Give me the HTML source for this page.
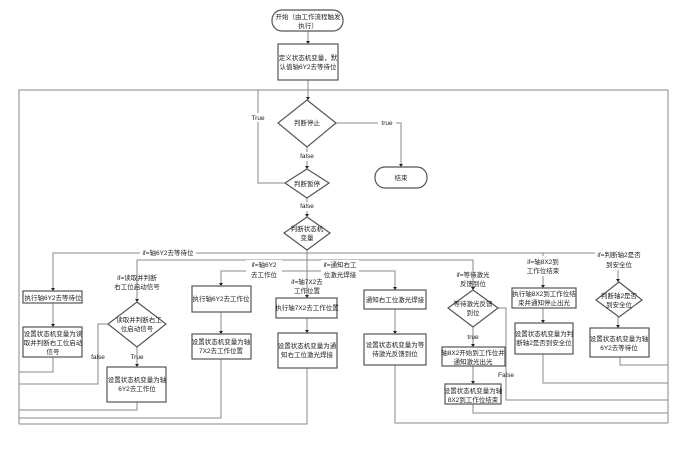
<!DOCTYPE html>
<html><head><meta charset="utf-8"><style>
html,body{margin:0;padding:0;background:#fff;}
svg{display:block;}
text{font-family:"Liberation Sans","Noto Sans CJK SC",sans-serif;font-size:6.5px;fill:#222;text-anchor:middle;}
.l{fill:none;stroke:#8a8a8a;stroke-width:1;}
.b{fill:#fff;stroke:#555;stroke-width:1.2;}
.a{fill:#222;}
</style></head><body>
<svg width="686" height="453" viewBox="0 0 686 453" xmlns="http://www.w3.org/2000/svg">
<g class="l">
<path d="M308 31V44M308 80V100"/>
<path d="M19 424V90H668V423"/>
<path d="M258 90V183H285"/>
<path d="M336 123H401V167"/>
<path d="M307 147V169M307 198V217M307 250V298"/>
<path d="M53 291V253H618V282"/>
<path d="M137 302V260H473V290"/>
<path d="M221 286V271H395V290"/>
<path d="M53 303V327M53 357V372H19"/>
<path d="M137 347V367M108 324H98V384H19M137 402V410H19"/>
<path d="M221 312V334M221 359V418H19"/>
<path d="M307 318V333M307 368V424H19"/>
<path d="M395 309V334M395 365V423H668"/>
<path d="M473 327V347M473 366V384M473 404V413H668M498 308H506V400H668"/>
<path d="M543 253V288M543 308V323M543 354V383H668"/>
<path d="M618 317V328M620 357V365H668"/>
</g>
<g class="a">
<path d="M306 41l2 3 2-3z"/><path d="M306 97l2 3 2-3z"/>
<path d="M399 164l2 3 2-3z"/><path d="M305 166l2 3 2-3z"/><path d="M305 214l2 3 2-3z"/>
<path d="M51 288l2 3 2-3z"/><path d="M51 324l2 3 2-3z"/>
<path d="M135 299l2 3 2-3z"/><path d="M135 364l2 3 2-3z"/>
<path d="M219 283l2 3 2-3z"/><path d="M219 331l2 3 2-3z"/>
<path d="M305 295l2 3 2-3z"/><path d="M305 330l2 3 2-3z"/>
<path d="M393 287l2 3 2-3z"/><path d="M393 331l2 3 2-3z"/>
<path d="M471 287l2 3 2-3z"/><path d="M471 344l2 3 2-3z"/><path d="M471 381l2 3 2-3z"/>
<path d="M541 285l2 3 2-3z"/><path d="M541 320l2 3 2-3z"/>
<path d="M616 279l2 3 2-3z"/><path d="M616 325l2 3 2-3z"/>
</g>
<rect class="b" x="272" y="10" width="71" height="21" rx="10"/>
<rect class="b" x="278" y="44" width="60" height="36"/>
<polygon class="b" points="307,100 336,123 307,147 278,123"/>
<rect class="b" x="375" y="167" width="52" height="21" rx="10"/>
<polygon class="b" points="307,169 329,183 307,198 285,183"/>
<polygon class="b" points="307,217 330,233 307,250 284,233"/>
<rect class="b" x="23" y="291" width="59" height="12"/>
<rect class="b" x="23" y="327" width="59" height="30"/>
<polygon class="b" points="137,302 166,324 137,347 108,324"/>
<rect class="b" x="107" y="367" width="59" height="35"/>
<rect class="b" x="192" y="286" width="59" height="26"/>
<rect class="b" x="192" y="334" width="59" height="25"/>
<rect class="b" x="276" y="298" width="61" height="20"/>
<rect class="b" x="278" y="333" width="59" height="35"/>
<rect class="b" x="364" y="290" width="62" height="19"/>
<rect class="b" x="364" y="334" width="62" height="31"/>
<polygon class="b" points="473,290 498,308 473,327 448,308"/>
<rect class="b" x="442" y="347" width="63" height="19"/>
<rect class="b" x="445" y="384" width="56" height="20"/>
<rect class="b" x="512" y="288" width="64" height="20"/>
<rect class="b" x="515" y="323" width="58" height="31"/>
<polygon class="b" points="619,282 642,300 619,317 596,300"/>
<rect class="b" x="590" y="328" width="59" height="29"/>
<g fill="#fff">
<rect x="250" y="113" width="16" height="9"/><rect x="378" y="118" width="18" height="9"/>
<rect x="296" y="152" width="22" height="9"/><rect x="296" y="202" width="22" height="9"/>
<rect x="140" y="248" width="56" height="9"/>
<rect x="246" y="260" width="36" height="20"/><rect x="321" y="260" width="38" height="20"/>
<rect x="523" y="256" width="42" height="20"/><rect x="595" y="250" width="48" height="20"/>
</g>
<text x="308" y="19">开始（由工作流程触发</text><text x="308" y="28">执行）</text>
<text x="308" y="60">定义状态机变量，默</text><text x="308" y="69">认值轴6Y2去等待位</text>
<text x="307" y="125">判断停止</text>
<text x="258" y="120">True</text><text x="387" y="125">true</text>
<text x="307" y="158">false</text><text x="307" y="208">false</text>
<text x="401" y="180">结束</text>
<text x="307" y="186">判断暂停</text>
<text x="307" y="231">判断状态机</text><text x="307" y="240">变量</text>
<text x="168" y="255">if=轴6Y2去等待位</text>
<text x="137" y="280">if=读取并判断</text><text x="137" y="289">右工位启动信号</text>
<text x="264" y="267">if=轴6Y2</text><text x="264" y="277">去工作位</text>
<text x="307" y="284">if=轴7X2去</text><text x="307" y="293">工作位置</text>
<text x="340" y="267">if=通知右工</text><text x="340" y="277">位激光焊接</text>
<text x="473" y="277">if=等待激光</text><text x="473" y="286">反馈到位</text>
<text x="543" y="264">if=轴8X2到</text><text x="543" y="273">工作位结束</text>
<text x="619" y="257">if=判断轴2是否</text><text x="619" y="267">到安全位</text>
<text x="53" y="300">执行轴6Y2去等待位</text>
<text x="53" y="336">设置状态机变量为读</text><text x="53" y="345">取并判断右工位启动</text><text x="53" y="354">信号</text>
<text x="139" y="322">读取并判断右工</text><text x="137" y="331">位启动信号</text>
<text x="98" y="359">false</text><text x="137" y="359">True</text>
<text x="137" y="382">设置状态机变量为轴</text><text x="137" y="391">6Y2去工作位</text>
<text x="221" y="301">执行轴6Y2去工作位</text>
<text x="221" y="344">设置状态机变量为轴</text><text x="221" y="353">7X2去工作位置</text>
<text x="307" y="310">执行轴7X2去工作位置</text>
<text x="307" y="348">设置状态机变量为通</text><text x="307" y="357">知右工位激光焊接</text>
<text x="395" y="302">通知右工位激光焊接</text>
<text x="395" y="347">设置状态机变量为等</text><text x="395" y="356">待激光反馈到位</text>
<text x="473" y="306">等待激光反馈</text><text x="473" y="315">到位</text>
<text x="473" y="339">true</text><text x="506" y="377">False</text>
<text x="473" y="355">轴8X2开始到工作位并</text><text x="473" y="364">通知激光出光</text>
<text x="473" y="393">设置状态机变量为轴</text><text x="473" y="402">8X2到工作位结束</text>
<text x="544" y="296">执行轴8X2到工作位结</text><text x="544" y="305">束并通知停止出光</text>
<text x="544" y="336">设置状态机变量为判</text><text x="544" y="345">断轴2是否到安全位</text>
<text x="619" y="298">判断轴2是否</text><text x="619" y="307">到安全位</text>
<text x="619" y="341">设置状态机变量为轴</text><text x="619" y="350">6Y2去等待位</text>
</svg>
</body></html>
